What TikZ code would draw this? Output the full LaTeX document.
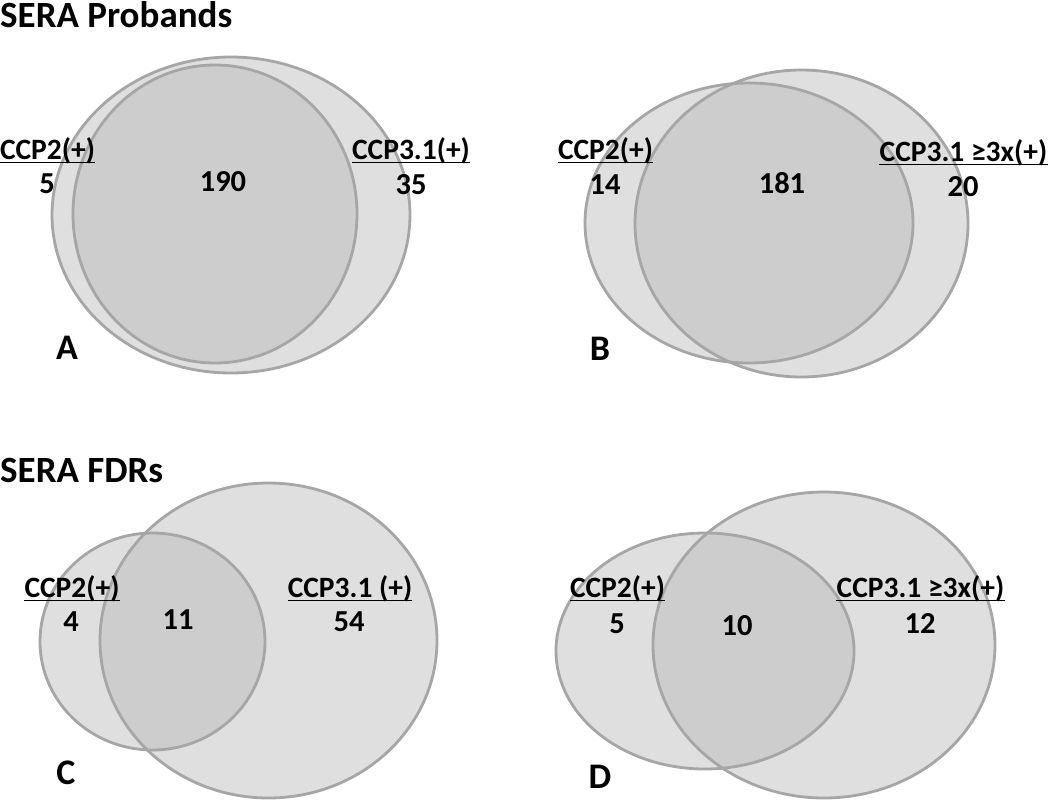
\documentclass[tikz,border=0pt]{standalone}
\usepackage{fontspec}
\setmainfont{Carlito}
\definecolor{singlefill}{HTML}{DFDFDF}
\definecolor{overlapfill}{HTML}{CDCDCD}
\definecolor{ringcol}{HTML}{A6A6A6}
\newcommand\vennpair[8]{%
  \fill[singlefill] (#1,#2) ellipse [x radius=#3pt, y radius=#4pt];
  \fill[singlefill] (#5,#6) ellipse [x radius=#7pt, y radius=#8pt];
  \begin{scope}
    \clip (#1,#2) ellipse [x radius=#3pt, y radius=#4pt];
    \fill[overlapfill] (#5,#6) ellipse [x radius=#7pt, y radius=#8pt];
  \end{scope}
  \draw[ring] (#1,#2) ellipse [x radius=#3pt, y radius=#4pt];
  \draw[ring] (#5,#6) ellipse [x radius=#7pt, y radius=#8pt];
}
\begin{document}
\begin{tikzpicture}[x=1pt,y=-1pt,
  ring/.style={draw=ringcol, line width=2.8pt},
  title/.style={font=\fontsize{37}{42}\selectfont\bfseries, inner sep=0pt, anchor=base west},
  setlbl/.style={font=\fontsize{29.5}{33}\selectfont\bfseries, inner sep=0pt, anchor=base},
  count/.style={font=\fontsize{30.5}{34}\selectfont\bfseries, inner sep=0pt, anchor=center},
  panel/.style={font=\fontsize{36}{40}\selectfont\bfseries, inner sep=0pt, anchor=center},
  uline/.style={draw=black, line width=1.7pt}]
\useasboundingbox (0,0) rectangle (1050,801);
\fill[white] (0,0) rectangle (1050,801);

% Panel A
\vennpair{231}{215}{179}{158}{215}{214}{142}{149}
% Panel B
\vennpair{749}{223}{164}{140}{801.5}{223.5}{166.5}{153.5}
% Panel C
\vennpair{152.5}{641.5}{112.5}{108.5}{268.5}{640.5}{168.5}{157.5}
% Panel D
\vennpair{705}{651}{149}{118}{824}{645}{171}{153}

% Titles
\node[title] (t1) at (0,27) {SERA Probands};
\node[title] (t2) at (0,482) {SERA FDRs};

% Panel A texts
\node[setlbl] (a1) at (47.5,159) {CCP2(+)};
\node[setlbl] (a2) at (411,159) {CCP3.1(+)};
\node[count] (an1) at (47,184) {5};
\node[count] (an2) at (223,182) {190};
\node[count] (an3) at (411,185) {35};
\node[panel] (pa) at (67,348) {A};

% Panel B texts
\node[setlbl] (b1) at (605.5,159) {CCP2(+)};
\node[setlbl] (b2) at (963.5,161) {CCP3.1 ≥3x(+)};
\node[count] (bn1) at (605,185) {14};
\node[count] (bn2) at (782,183) {181};
\node[count] (bn3) at (963,187) {20};
\node[panel] (pb) at (600,349) {B};

% Panel C texts
\node[setlbl] (c1) at (72,597) {CCP2(+)};
\node[setlbl] (c2) at (350,597) {CCP3.1 (+)};
\node[count] (cn1) at (71,622) {4};
\node[count] (cn2) at (178,620) {11};
\node[count] (cn3) at (349,622) {54};
\node[panel] (pc) at (66,773) {C};

% Panel D texts
\node[setlbl] (d1) at (617.5,597) {CCP2(+)};
\node[setlbl] (d2) at (920.5,597) {CCP3.1 ≥3x(+)};
\node[count] (dn1) at (617,624) {5};
\node[count] (dn2) at (737,626) {10};
\node[count] (dn3) at (920,623) {12};
\node[panel] (pd) at (600,777) {D};

% Underlines
\foreach \n in {a1,a2,b1,b2,c1,c2,d1,d2}{
  \draw[uline] ([yshift=-3.5pt]\n.base west) -- ([yshift=-3.5pt]\n.base east);
}
\end{tikzpicture}
\end{document}
